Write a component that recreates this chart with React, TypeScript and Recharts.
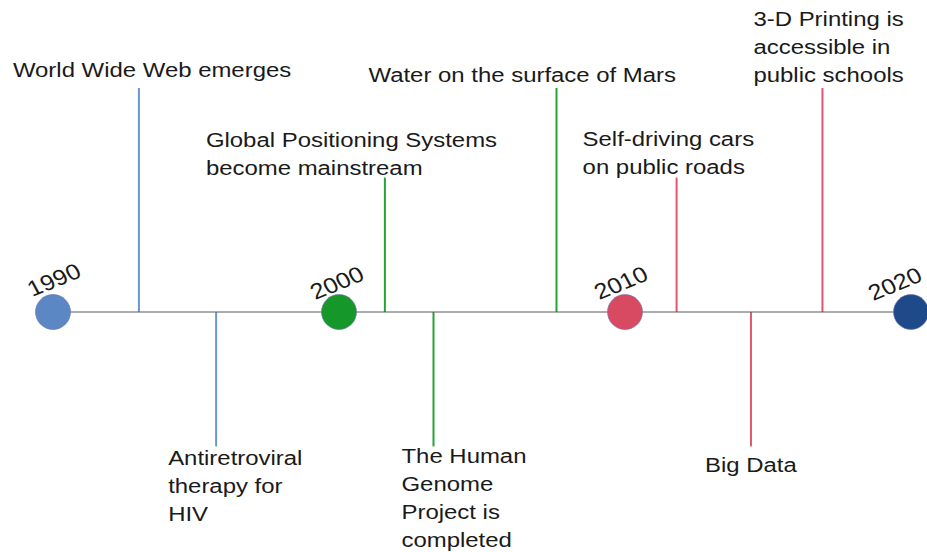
import React from 'react';
import { ComposedChart, Bar, Cell, Line, Scatter, XAxis, YAxis, LabelList } from 'recharts';

// ---- data ----
const eventYears = [1993.0, 1995.7, 2001.6, 2003.3, 2007.6, 2011.8, 2014.4, 2016.9];
const eventLevels = [5, -3, 3, -3, 5, 3, -3, 5];
const eventLabels: string[][] = [
  ['World Wide Web emerges'],
  ['Antiretroviral', 'therapy for', 'HIV'],
  ['Global Positioning Systems', 'become mainstream'],
  ['The Human', 'Genome', 'Project is', 'completed'],
  ['Water on the surface of Mars'],
  ['Self-driving cars', 'on public roads'],
  ['Big Data'],
  ['3-D Printing is', 'accessible in', 'public schools'],
];
const eventEra = [0, 0, 1, 1, 1, 2, 2, 2];
const milestoneYears = [1990, 2000, 2010, 2020];
const milestoneLabels = ['1990', '2000', '2010', '2020'];

// ---- styles / layout ----
const ERA_STEM_COLORS = ['#6a97cf', '#22a535', '#e05570'];
const MILESTONE_COLORS = ['#5b87c4', '#16972a', '#d84a62', '#1f4a8a'];
const LABEL_LAYOUT = [
  { dx: -126, gap: 11.5 },
  { dx: -48, gap: 18.5 },
  { dx: -179, gap: 2.5 },
  { dx: -32, gap: 16.5 },
  { dx: -188, gap: 6.5 },
  { dx: -94, gap: 4 },
  { dx: -46, gap: 26 },
  { dx: -69, gap: 6 },
];
const MILESTONE_LABEL_OFFSETS = [
  { dx: 1, dy: -32 },
  { dx: -2, dy: -29 },
  { dx: -4, dy: -29 },
  { dx: -16, dy: -28 },
];
const FONT = '"Liberation Sans", Arial, sans-serif';
const FS = 21;
const SX = 1.14;
const LINE_H = 28;
const TEXT_COLOR = '#1a1a1a';

const events = eventYears.map((year, i) => ({ year, level: eventLevels[i] }));
const milestones = milestoneYears.map((year, i) => ({ year, level: 0, label: milestoneLabels[i] }));

const renderEventLabel = (props: any) => {
  const { x, y, width, height, index } = props;
  const top = Math.min(Number(y), Number(y) + Number(height));
  const bottom = Math.max(Number(y), Number(y) + Number(height));
  const cx = Number(x) + Number(width) / 2;
  const lines = eventLabels[index];
  const lay = LABEL_LAYOUT[index];
  const up = eventLevels[index] > 0;
  const firstBaseline = up ? top - lay.gap - (lines.length - 1) * LINE_H : bottom + lay.gap;
  return (
    <g transform={`translate(${cx + lay.dx},${firstBaseline}) scale(${SX},1)`}>
      <text x={0} y={0} fontFamily={FONT} fontSize={FS} fill={TEXT_COLOR}>
        {lines.map((l, i) => (
          <tspan key={i} x={0} dy={i === 0 ? 0 : LINE_H}>
            {l}
          </tspan>
        ))}
      </text>
    </g>
  );
};

const MilestoneShape = (props: any) => {
  const { cx, cy, payload } = props;
  const idx = milestoneLabels.indexOf(payload.label);
  const color = MILESTONE_COLORS[idx];
  const off = MILESTONE_LABEL_OFFSETS[idx];
  return (
    <g>
      <circle cx={cx} cy={cy} r={17.5} fill={color} stroke="#6b6fa8" strokeWidth={0.6} />
      <text
        transform={`translate(${cx + off.dx},${cy + off.dy}) scale(${SX},1) rotate(-25)`}
        textAnchor="middle"
        dominantBaseline="central"
        fontFamily={FONT}
        fontSize={22}
        fill={TEXT_COLOR}
      >
        {payload.label}
      </text>
    </g>
  );
};

export default function App() {
  return (
    <div style={{ position: 'absolute', left: 0, top: 0, width: 927, height: 552, background: '#fff' }}>
      <ComposedChart
        width={927}
        height={552}
        data={events}
        margin={{ top: 7.36, right: 16, bottom: 16, left: 53 }}
        style={{ overflow: 'visible' }}
      >
        <XAxis type="number" dataKey="year" domain={[1990, 2020]} hide />
        <YAxis type="number" dataKey="level" domain={[-5, 6.8]} hide />
        <Line
          data={milestones}
          dataKey="level"
          stroke="#5a5a5a"
          strokeWidth={1.2}
          dot={false}
          activeDot={false}
          isAnimationActive={false}
        />
        <Bar dataKey="level" barSize={2} isAnimationActive={false}>
          {events.map((e, i) => (
            <Cell key={i} fill={ERA_STEM_COLORS[eventEra[i]]} />
          ))}
          <LabelList dataKey="level" content={renderEventLabel} />
        </Bar>
        <Scatter data={milestones} dataKey="level" shape={MilestoneShape} isAnimationActive={false} />
      </ComposedChart>
    </div>
  );
}
